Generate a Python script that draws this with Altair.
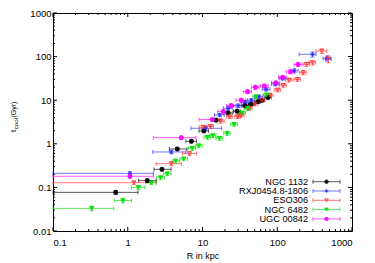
import altair as alt
import pandas as pd

# ---------------- data ----------------
series_names = ["NGC 1132", "RXJ0454.8-1806", "ESO306", "NGC 6482", "UGC 00842"]

ngc1132_R   = [0.69, 1.83, 2.87, 4.6, 7.1, 10.4, 15.2, 22, 29, 37, 45, 55, 62, 75]
ngc1132_t   = [0.077, 0.143, 0.26, 0.76, 1.14, 1.97, 3.5, 5.1, 5.6, 7.6, 8.2, 9.2, 10, 11.6]
ngc1132_xlo = [0.1, 1.4, 2.25, 3.6, 6.0, 9.0, 13.5, 19.5, 26, 33, 41, 50, 57, 68]
ngc1132_xhi = [1.37, 2.4, 3.8, 6.2, 8.3, 12, 17, 25, 32, 41, 50, 60, 68, 83]
ngc1132_te  = [0.008, 0.012, 0.02, 0.06, 0.09, 0.15, 0.3, 0.4, 0.45, 0.6, 0.7, 0.8, 0.9, 1.0]

rxj_R   = [1.07, 3.83, 10.9, 17, 22, 30, 37, 45, 57, 71, 94, 118, 169, 296, 460]
rxj_t   = [0.21, 0.65, 2.27, 4.6, 6.5, 7.5, 9.0, 10, 12, 17.8, 23.5, 31.8, 47.5, 113, 91]
rxj_xlo = [0.1, 2.16, 7.0, 14.5, 19, 26, 33, 40, 50, 63, 84, 106, 150, 196, 410]
rxj_xhi = [2.2, 6.0, 18, 19.5, 25, 34, 41, 50, 64, 80, 105, 130, 190, 330, 520]
rxj_te  = [0.02, 0.06, 0.2, 0.4, 0.6, 0.7, 0.8, 0.9, 1.1, 1.6, 2.2, 3, 5, 15, 12]

eso_R   = [1.21, 3.83, 6.7, 10.2, 12.8, 17.5, 23, 29.5, 33, 42, 50, 62, 80, 101, 120, 144, 186, 222, 246, 296, 394, 483]
eso_t   = [0.128, 0.35, 0.6, 2.4, 2.5, 3.3, 4.2, 4.2, 4.5, 6.5, 8.2, 10, 13, 17.1, 22, 29, 30, 42.8, 66.5, 72.5, 134, 88]
eso_xlo = [0.1, 2.4, 5.4, 9, 11.5, 15.5, 21, 27, 30, 38, 45, 56, 72, 91, 108, 130, 168, 200, 222, 266, 330, 440]
eso_xhi = [2.4, 5.2, 8.3, 11.5, 14, 19.5, 25, 32, 36, 46, 55, 68, 88, 111, 132, 158, 204, 244, 270, 326, 460, 530]
eso_te  = [0.012, 0.035, 0.06, 0.25, 0.25, 0.33, 0.4, 0.4, 0.45, 0.6, 0.8, 1.0, 1.3, 1.7, 2.2, 3, 3, 4.5, 7, 8, 16, 16]

ngc6482_R   = [0.33, 0.86, 1.39, 2.07, 2.75, 3.38, 4.37, 5.6, 7.3, 8.9, 11.6, 13.7, 16.9, 21.3, 26.4, 34, 40, 52, 72]
ngc6482_t   = [0.033, 0.05, 0.10, 0.128, 0.167, 0.206, 0.40, 0.45, 0.79, 0.90, 1.41, 1.54, 1.34, 1.74, 2.8, 5.1, 6.5, 12, 13.2]
ngc6482_xlo = [0.1, 0.66, 1.12, 1.75, 2.4, 3.0, 3.9, 5.0, 6.5, 8.0, 10.4, 12.4, 15.2, 19.2, 23.8, 30.5, 36, 47, 65]
ngc6482_xhi = [0.65, 1.12, 1.7, 2.4, 3.1, 3.8, 4.9, 6.3, 8.1, 9.9, 12.8, 15.1, 18.6, 23.5, 29.2, 37.7, 44, 58, 80]
ngc6482_te  = [0.004, 0.006, 0.01, 0.012, 0.016, 0.02, 0.04, 0.045, 0.08, 0.09, 0.14, 0.15, 0.14, 0.18, 0.28, 0.5, 0.65, 1.2, 1.3]

ugc_R   = [1.07, 5.2, 13.5, 19, 24, 33, 40, 51, 67, 96, 118, 150, 190]
ugc_t   = [0.18, 1.38, 3.6, 5.5, 7.5, 10, 15.7, 19.8, 21.2, 25, 33.5, 45, 66]
ugc_xlo = [0.1, 2.2, 9.0, 16, 21, 28, 35, 45, 59, 84, 104, 132, 168]
ugc_xhi = [2.2, 8.2, 18, 22, 27.5, 38, 45, 57, 76, 108, 132, 170, 215]
ugc_te  = [0.018, 0.13, 0.35, 0.5, 0.7, 1.0, 1.5, 2, 2, 2.5, 3.3, 4.5, 6.5]

x_tick_values = [0.1, 1, 10, 100, 1000]
y_tick_values = [0.01, 0.1, 1, 10, 100, 1000]

# ---------------- styles ----------------
FONT = "Liberation Sans"
W, H = 299, 218
marker_colors = ["#000000", "#2a2aff", "#ff3030", "#00e000", "#ff00ff"]
fill_colors = ["#000000", "transparent", "transparent", "#00e000", "#ff00ff"]
asterisk = "M-1,0L1,0M0,-1L0,1M-0.72,-0.72L0.72,0.72M-0.72,0.72L0.72,-0.72"
shapes = ["circle", asterisk, "triangle-down", "triangle-down", "circle"]

all_series = [
    (ngc1132_R, ngc1132_t, ngc1132_xlo, ngc1132_xhi, ngc1132_te),
    (rxj_R, rxj_t, rxj_xlo, rxj_xhi, rxj_te),
    (eso_R, eso_t, eso_xlo, eso_xhi, eso_te),
    (ngc6482_R, ngc6482_t, ngc6482_xlo, ngc6482_xhi, ngc6482_te),
    (ugc_R, ugc_t, ugc_xlo, ugc_xhi, ugc_te),
]
rows = []
for name, (R, t, xlo, xhi, te) in zip(series_names, all_series):
    for i in range(len(R)):
        rows.append(dict(series=name, R=R[i], t=t[i], xlo=xlo[i], xhi=xhi[i],
                         tlo=t[i] - te[i], thi=t[i] + te[i]))
df = pd.DataFrame(rows)

xscale = alt.Scale(type="log", domain=[0.1, 1000], nice=False)
yscale = alt.Scale(type="log", domain=[0.01, 1000], nice=False)
xaxis = alt.Axis(values=x_tick_values, format="~g", title="R in kpc", ticks=False, tickSize=0,
                 domain=False, grid=False, labelPadding=6, labelFont=FONT, labelFontSize=9.5,
                 labelColor="black", titleFont=FONT, titleFontSize=9, titleFontWeight="normal",
                 titleColor="black", titlePadding=5)
yaxis = alt.Axis(values=y_tick_values, format="~g", title=None, ticks=False, tickSize=0,
                 domain=False, grid=False, labelPadding=2, labelFont=FONT, labelFontSize=9.5,
                 labelColor="black")


def X(f):
    return alt.X(f, type="quantitative", scale=xscale, axis=xaxis)


def Y(f):
    return alt.Y(f, type="quantitative", scale=yscale, axis=yaxis)


color = alt.Color("series:N", scale=alt.Scale(domain=series_names, range=marker_colors), legend=None)
shape = alt.Shape("series:N", scale=alt.Scale(domain=series_names, range=shapes), legend=None)
fill = alt.Fill("series:N", scale=alt.Scale(domain=series_names, range=fill_colors), legend=None)
stroke = alt.Stroke("series:N", scale=alt.Scale(domain=series_names, range=marker_colors), legend=None)

base = alt.Chart(df)
BAR_OP = 0.65
PT_SIZE = 17
hbar = base.mark_rule(strokeWidth=1, opacity=BAR_OP).encode(x=X("xlo"), x2="xhi:Q", y=Y("t"), color=color)
hcap_lo = base.mark_tick(orient="vertical", size=4, thickness=1, opacity=BAR_OP).encode(x=X("xlo"), y=Y("t"), color=color)
hcap_hi = base.mark_tick(orient="vertical", size=4, thickness=1, opacity=BAR_OP).encode(x=X("xhi"), y=Y("t"), color=color)
vbar = base.mark_rule(strokeWidth=1, opacity=BAR_OP).encode(x=X("R"), y=Y("tlo"), y2="thi:Q", color=color)
vcap_lo = base.mark_tick(orient="horizontal", size=4, thickness=1, opacity=BAR_OP).encode(x=X("R"), y=Y("tlo"), color=color)
vcap_hi = base.mark_tick(orient="horizontal", size=4, thickness=1, opacity=BAR_OP).encode(x=X("R"), y=Y("thi"), color=color)
points = base.mark_point(filled=True, size=PT_SIZE, strokeWidth=1, opacity=0.9).encode(
    x=X("R"), y=Y("t"), shape=shape, fill=fill, stroke=stroke)

# ---------------- inward ticks on all four sides ----------------
x_minor = [m * d for d in x_tick_values[:-1] for m in range(2, 10)]
y_minor = [m * d for d in y_tick_values[:-1] for m in range(2, 10)]
xmaj = alt.Chart(pd.DataFrame({"v": x_tick_values}))
xmin = alt.Chart(pd.DataFrame({"v": x_minor}))
ymaj = alt.Chart(pd.DataFrame({"v": y_tick_values}))
ymin = alt.Chart(pd.DataFrame({"v": y_minor}))
MAJ, MIN = 4, 2
tick_layers = []
for ch, ln in [(xmaj, MAJ), (xmin, MIN)]:
    tick_layers.append(ch.mark_rule(color="black", strokeWidth=1).encode(
        x=X("v"), y=alt.value(H), y2=alt.value(H - ln)))
    tick_layers.append(ch.mark_rule(color="black", strokeWidth=1).encode(
        x=X("v"), y=alt.value(0), y2=alt.value(ln)))
for ch, ln in [(ymaj, MAJ), (ymin, MIN)]:
    tick_layers.append(ch.mark_rule(color="black", strokeWidth=1).encode(
        y=Y("v"), x=alt.value(0), x2=alt.value(ln)))
    tick_layers.append(ch.mark_rule(color="black", strokeWidth=1).encode(
        y=Y("v"), x=alt.value(W), x2=alt.value(W - ln)))

# ---------------- legend (inside, bottom right) ----------------
LEG_TOP, LEG_STEP = 168.7, 9.3
leg = pd.DataFrame({"series": series_names,
                    "ly": [LEG_TOP + i * LEG_STEP for i in range(len(series_names))]})
lbase = alt.Chart(leg)
LY = alt.Y("ly:Q", scale=None, axis=None)
leg_text = lbase.mark_text(align="right", baseline="middle", font=FONT, fontSize=9.2, color="black").encode(
    x=alt.value(255), y=LY, text="series:N")
leg_line = lbase.mark_rule(strokeWidth=1, opacity=BAR_OP).encode(
    x=alt.value(260), x2=alt.value(287), y=LY, color=color)
leg_cap1 = lbase.mark_tick(orient="vertical", size=4, thickness=1, opacity=BAR_OP).encode(
    x=alt.value(260), y=LY, color=color)
leg_cap2 = lbase.mark_tick(orient="vertical", size=4, thickness=1, opacity=BAR_OP).encode(
    x=alt.value(287), y=LY, color=color)
leg_pt = lbase.mark_point(filled=True, size=12, strokeWidth=1, opacity=0.9).encode(
    x=alt.value(273.5), y=LY, shape=shape, fill=fill, stroke=stroke)

# ---------------- y-axis title  t_cool (Gyr) ----------------
one = pd.DataFrame({"s": [0]})
TX = -37
yt1 = alt.Chart(one).mark_text(text="t", angle=270, align="left", baseline="alphabetic",
                               font=FONT, fontSize=8, color="black").encode(
    x=alt.value(TX), y=alt.value(119))
yt2 = alt.Chart(one).mark_text(text="cool", angle=270, align="left", baseline="alphabetic",
                               font=FONT, fontSize=6.2, color="black").encode(
    x=alt.value(TX + 2), y=alt.value(116.3))
yt3 = alt.Chart(one).mark_text(text=" (Gyr)", angle=270, align="left", baseline="alphabetic",
                               font=FONT, fontSize=7, color="black").encode(
    x=alt.value(TX), y=alt.value(104.5))

chart = alt.layer(
    hbar, hcap_lo, hcap_hi, vbar, vcap_lo, vcap_hi, points,
    *tick_layers,
    leg_line, leg_cap1, leg_cap2, leg_pt, leg_text,
    yt1, yt2, yt3,
).properties(
    width=W, height=H,
    autosize=alt.AutoSizeParams(type="none"),
    padding={"left": 45, "top": 5, "right": 15, "bottom": 32},
    background="white",
).configure_view(stroke="black", strokeWidth=1)

chart.save("out.html", embed_options={"renderer": "svg", "actions": False})
